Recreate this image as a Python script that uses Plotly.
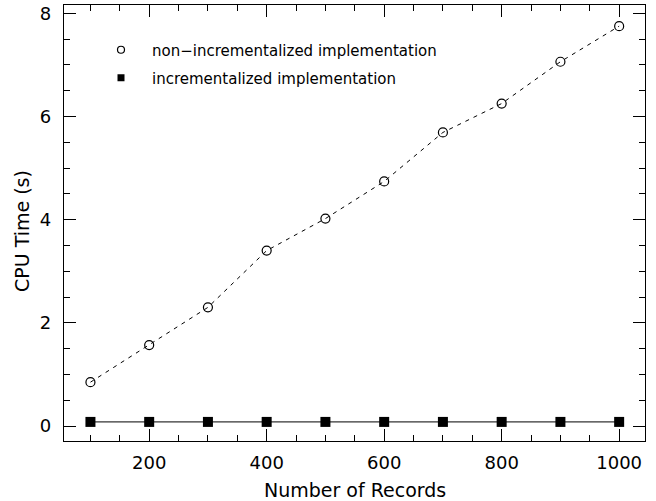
import plotly.graph_objects as go

records = [100, 200, 300, 400, 500, 600, 700, 800, 900, 1000]
non_incr = [0.85, 1.57, 2.30, 3.40, 4.02, 4.74, 5.69, 6.25, 7.06, 7.75]
incr = [0.08, 0.08, 0.08, 0.08, 0.08, 0.08, 0.08, 0.08, 0.08, 0.08]

name_non = "non\u2212incrementalized implementation"
name_inc = "incrementalized implementation"

FONT = "DejaVu Sans, Liberation Sans, sans-serif"

fig = go.Figure()
fig.add_trace(go.Scatter(x=records, y=non_incr, mode="lines+markers", showlegend=False,
                         line=dict(color="black", width=1, dash="4px,5px"),
                         marker=dict(symbol="circle-open", size=9, color="black", line=dict(width=1.2))))
fig.add_trace(go.Scatter(x=records, y=incr, mode="lines+markers", showlegend=False,
                         line=dict(color="black", width=1),
                         marker=dict(symbol="square", size=10, color="black")))
# legend-only marker entries
fig.add_trace(go.Scatter(x=[None], y=[None], mode="markers", name=name_non, legend="legend",
                         marker=dict(symbol="circle-open", size=7, color="black", line=dict(width=1.2))))
fig.add_trace(go.Scatter(x=[None], y=[None], mode="markers", name=name_inc, legend="legend2",
                         marker=dict(symbol="square", size=7, color="black")))

axis_common = dict(showline=True, linecolor="black", linewidth=1.3, mirror="allticks",
                   ticks="inside", ticklen=12, tickwidth=1, tickcolor="black",
                   showgrid=False, zeroline=False, automargin=False,
                   tickfont=dict(family=FONT, size=18, color="black"))

fig.update_xaxes(range=[55, 1044], tickvals=[200, 400, 600, 800, 1000],
                 minor=dict(dtick=50, tick0=0, ticks="inside", ticklen=6, tickcolor="black", showgrid=False),
                 ticklabelstandoff=5,
                 **axis_common)
fig.update_yaxes(range=[-0.29, 8.16], tickvals=[0, 2, 4, 6, 8],
                 minor=dict(dtick=0.5, tick0=0, ticks="inside", ticklen=6, tickcolor="black", showgrid=False),
                 ticklabelstandoff=8,
                 **axis_common)

fig.add_annotation(text="Number of Records", xref="paper", yref="paper", x=(355 - 64) / 581, y=-(490 - 441) / 436,
                   xanchor="center", yanchor="middle", showarrow=False,
                   font=dict(family=FONT, size=19, color="black"))
fig.add_annotation(text="CPU Time (s)", xref="paper", yref="paper", x=-(64 - 22) / 581, y=(441 - 231) / 436,
                   xanchor="center", yanchor="middle", showarrow=False, textangle=-90,
                   font=dict(family=FONT, size=19, color="black"))

leg_common = dict(xanchor="left", yanchor="middle", bgcolor="rgba(0,0,0,0)", itemwidth=52,
                  font=dict(family=FONT, size=15, color="black"))
fig.update_layout(width=656, height=501, margin=dict(l=64, r=11, t=5, b=60),
                  plot_bgcolor="white", paper_bgcolor="white",
                  font=dict(family=FONT, size=15, color="black"),
                  legend=dict(x=(90 - 64) / 581, y=(441 - 50) / 436, **leg_common),
                  legend2=dict(x=(90 - 64) / 581, y=(441 - 78) / 436, **leg_common))

fig.write_html("out.html", config={"displayModeBar": False},
               post_script="document.body.style.margin='0';document.body.style.padding='0';"
                           "document.documentElement.style.overflow='hidden';")
